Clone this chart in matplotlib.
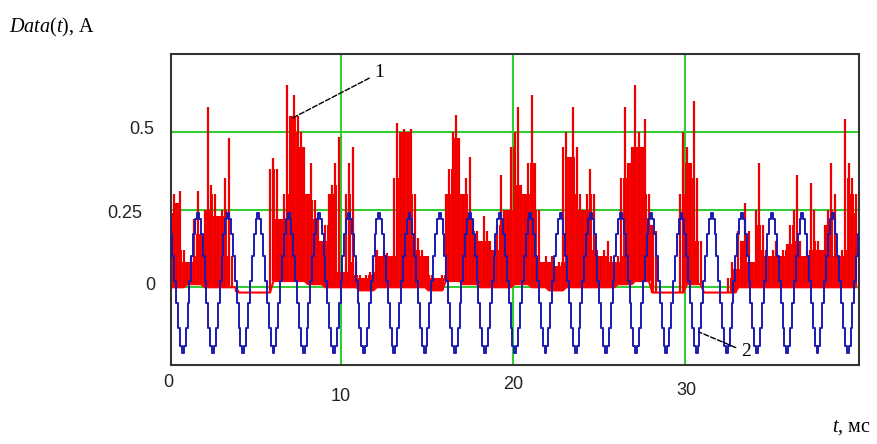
import numpy as np
import matplotlib
matplotlib.use('Agg')
import matplotlib.pyplot as plt

plt.rcParams['mathtext.fontset'] = 'custom'
plt.rcParams['mathtext.it'] = 'Liberation Serif:italic'
plt.rcParams['mathtext.rm'] = 'Liberation Serif'

# red curve (1): upper envelope every 0.2 ms, lower envelope every 1 ms
red_t = np.arange(0.1, 40.0, 0.2)
red_hi = [
    0.24, 0.30, 0.27, 0.31, 0.12,   0.08, 0.10, 0.22, 0.31, 0.17,
    0.25, 0.58, 0.33, 0.30, 0.23,   0.25, 0.35, 0.48, 0.10, -0.015,
    -0.017, -0.017, -0.017, -0.017, -0.017,   -0.017, -0.017, -0.017, -0.017, 0.38,
    0.415, 0.38, 0.22, 0.30, 0.65,   0.55, 0.62, 0.55, 0.50, 0.45,
    0.30, 0.40, 0.28, 0.22, 0.15,   0.20, 0.30, 0.33, 0.40, 0.485,
    0.05, 0.30, 0.40, 0.45, 0.08,   0.04, 0.03, 0.04, 0.05, 0.10,
    0.12, 0.10, 0.12, 0.11, 0.10,   0.35, 0.53, 0.50, 0.51, 0.50,
    0.51, 0.30, 0.16, 0.12, 0.10,   0.10, 0.04, 0.03, 0.03, 0.04,
    0.30, 0.38, 0.50, 0.555, 0.48,   0.30, 0.35, 0.42, 0.22, 0.18,
    0.15, 0.23, 0.18, 0.15, 0.12,   0.20, 0.36, 0.25, 0.25, 0.45,
    0.50, 0.58, 0.33, 0.30, 0.40,   0.62, 0.40, 0.25, 0.08, 0.10,
    0.08, 0.10, 0.07, 0.08, 0.45,   0.50, 0.42, 0.58, 0.45, 0.30,
    0.25, 0.30, 0.38, 0.30, 0.12,   0.10, 0.12, 0.15, 0.10, 0.08,
    0.10, 0.35, 0.58, 0.40, 0.45,   0.65, 0.50, 0.45, 0.54, 0.30,
    0.20, 0.18, -0.015, -0.017, -0.017,   -0.017, -0.017, -0.017, 0.30, 0.50,
    0.45, 0.40, 0.60, 0.35, 0.15,   -0.017, -0.017, -0.017, -0.017, -0.017,
    -0.017, -0.017, 0.03, 0.08, 0.06,   0.18, 0.15, 0.27, 0.18, 0.08,
    0.25, 0.40, 0.20, 0.12, 0.10,   0.12, 0.15, 0.10, 0.12, 0.14,
    0.20, 0.25, 0.36, 0.15, 0.10,   0.12, 0.335, 0.25, 0.15, 0.12,
    0.20, 0.25, 0.40, 0.30, 0.10,   0.12, 0.54, 0.40, 0.35, 0.30,
]
red_lo_ms = [
    0.00, 0.01, 0.00, 0.00, -0.017, -0.017, 0.02, 0.02, 0.01, 0.00,
    0.00, -0.01, 0.00, 0.00, 0.00, -0.01, 0.02, 0.01, 0.00, 0.00,
    0.01, 0.00, -0.01, 0.00, 0.00, 0.00, 0.01, 0.02, -0.017, -0.017,
    0.01, -0.017, -0.017, 0.00, 0.00, 0.00, 0.00, 0.00, 0.00, 0.00,
]
red_lo = np.repeat(red_lo_ms, 5)

# blue curve (2): one stepped period, repeated
blue_period = [-0.21, -0.19, -0.13, -0.05, 0.02, 0.10, 0.17, 0.22,
               0.24, 0.22, 0.17, 0.10, 0.02, -0.05, -0.13, -0.19]
blue_T = 1.755
blue_first_trough = 0.78
n_periods = 25

fig = plt.figure(figsize=(8.77, 4.44), dpi=100)
ax = fig.add_axes([0.195, 0.178, 0.7845, 0.700])

grid_c = '#33cc33'
for gx in [10, 20, 30]:
    ax.axvline(gx, color=grid_c, lw=1.5, zorder=1)
for gy in [0, 0.25, 0.5]:
    ax.axhline(gy, color=grid_c, lw=1.5, zorder=1)

# dense signal: solid body (lowest of neighbouring tops) plus thin spikes
hi = np.array(red_hi)
body = np.minimum.reduce([hi, np.roll(hi, 1), np.roll(hi, -1)])
body = np.maximum(body, red_lo)
ax.fill_between(red_t, red_lo, body, step='mid', color='#ff0000', lw=0, zorder=2)
ax.vlines(red_t, red_lo, hi, color='#ee0000', lw=1.6, zorder=2)
ax.plot(red_t, red_lo, color='#ff0000', lw=1.5, zorder=2)

dt = blue_T / len(blue_period)
blue_y = np.tile(blue_period, n_periods)
blue_t = blue_first_trough - blue_T + np.arange(len(blue_y)) * dt
ax.step(blue_t, blue_y, where='post', color='#1a1ab0', lw=1.4, zorder=3)

ax.set_xlim(0.15, 40.1)
ax.set_ylim(-0.25, 0.75)
ax.set_xticks([])
ax.set_yticks([])
for s in ax.spines.values():
    s.set_color('#333333')
    s.set_linewidth(1.5)

tick_font = dict(family='Liberation Sans', fontsize=13, color='#222222')
# staggered x labels, like the original
for val, ypix in [(0, 382), (10, 396), (20, 384), (30, 390)]:
    fig.text((168.5 + val * 17.25) / 877, 1 - ypix / 444, str(val),
             ha='center', va='center', **tick_font)
for val, xpix, ypix in [('0.5', 142, 129), ('0.25', 125, 213), ('0', 150, 286)]:
    fig.text(xpix / 877, 1 - ypix / 444, val, ha='center', va='center', **tick_font)

serif = 'Liberation Serif'
fig.text(9 / 877, 1 - 27 / 444, r'$\mathit{Data(t)}$' + ', A', ha='left', va='center',
         family=serif, fontsize=14.5)
fig.text(832 / 877, 1 - 427 / 444, r'$\mathit{t}$' + ', мс', ha='left', va='center',
         family=serif, fontsize=14.5)

ax.annotate('1', xy=(7.22, 0.545), xytext=(11.97, 0.69), family=serif, fontsize=14,
            ha='left', va='center',
            arrowprops=dict(arrowstyle='-', color='black', ls='--', lw=1.0, shrinkA=2, shrinkB=0))
ax.annotate('2', xy=(30.81, -0.144), xytext=(33.25, -0.208), family=serif, fontsize=14,
            ha='left', va='center',
            arrowprops=dict(arrowstyle='-', color='black', ls='--', lw=1.0, shrinkA=2, shrinkB=0))

fig.savefig('out.png', dpi=100)
